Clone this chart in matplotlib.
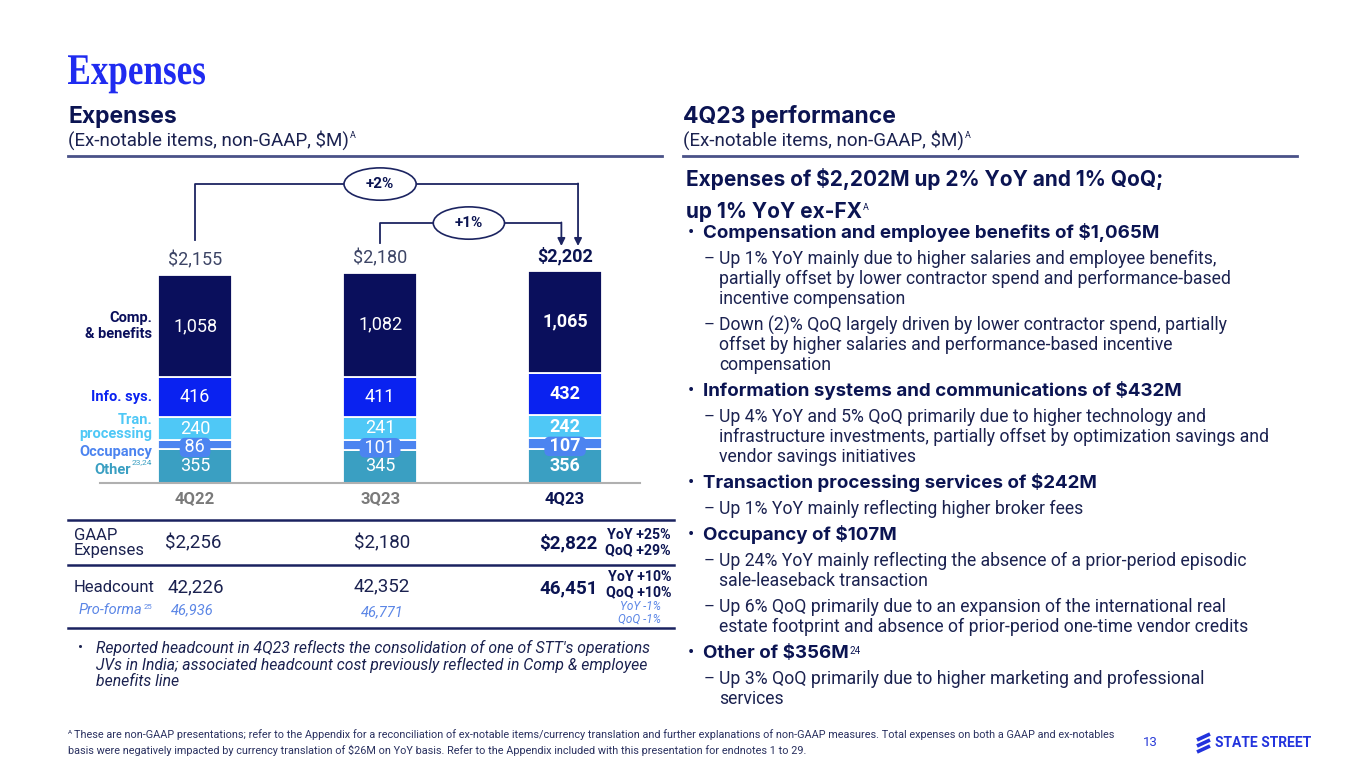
import numpy as np
import matplotlib
matplotlib.use("Agg")
import matplotlib.pyplot as plt
import matplotlib.transforms as mtransforms
from matplotlib.patches import Ellipse, PathPatch
from matplotlib.textpath import TextPath
from matplotlib.font_manager import FontProperties

plt.rcParams['font.family'] = ['Roboto', 'DejaVu Sans']
BOLD = ['Inter', 'Roboto', 'DejaVu Sans']

# ---- data ----
quarters = ['4Q22', '3Q23', '4Q23']
comp = [1058, 1082, 1065]
info_sys = [416, 411, 432]
tran = [240, 241, 242]
occupancy = [86, 101, 107]
other = [355, 345, 356]
totals = [2155, 2180, 2202]

gaap = ['$2,256', '$2,180', '$2,822']
gaap_chg = ['YoY +25%', 'QoQ +29%']
headcount = ['42,226', '42,352', '46,451']
head_chg = ['YoY +10%', 'QoQ +10%']
proforma = ['46,936', '46,771']
proforma_chg = ['YoY -1%', 'QoQ -1%']

navy = '#0b1452'
c_comp = '#0a0f5c'
c_info = '#0a22f0'
c_tran = '#4fc8f6'
c_occ = '#4c84f0'
c_other = '#3a9fc2'

fig = plt.figure(figsize=(13.65, 7.68), dpi=100)
fig.patch.set_facecolor('white')

# overlay axes in pixel coordinates for slide text
tx = fig.add_axes([0, 0, 1, 1])
tx.set_xlim(0, 1365)
tx.set_ylim(768, 0)
tx.axis('off')
renderer = fig.canvas.get_renderer()


def with_sup(x, y, s, sup, size, sup_size, **kw):
    t = tx.text(x, y, s, fontsize=size, va='center', **kw)
    bb = t.get_window_extent(renderer)
    x1, ytop = tx.transData.inverted().transform((bb.x1, bb.y1))
    kw.pop('weight', None)
    kw.pop('style', None)
    kw.pop('family', None)
    tx.text(x1 + 1, ytop + 1, sup, fontsize=sup_size, va='top', **kw)


# title, drawn as a stretched path to mimic the condensed display serif
tp = TextPath((0, 0), 'Expenses', size=40,
              prop=FontProperties(family='Liberation Serif', weight='bold'))
ext = tp.get_extents()
sx = 137 / ext.width
sy = 29 / (0.662 * 40)
tr = mtransforms.Affine2D().translate(-ext.x0, 0).scale(sx, -sy).translate(68, 84)
tx.add_patch(PathPatch(tr.transform_path(tp), fc='#1f2bf0', ec='none'))

tx.text(68, 117, 'Expenses', fontsize=16.5, weight='bold', family=BOLD, color=navy, va='center')
with_sup(68, 140, '(Ex-notable items, non-GAAP, $M)', 'A', 13.5, 6.5, color='#1b2250')
tx.text(683, 117, '4Q23 performance', fontsize=16.5, weight='bold', family=BOLD, color=navy,
        va='center')
with_sup(683, 140, '(Ex-notable items, non-GAAP, $M)', 'A', 13.5, 6.5, color='#1b2250')
tx.plot([68, 662], [156, 156], color='#4a5288', lw=2)
tx.plot([683, 1297], [156, 156], color='#4a5288', lw=2)

# ---- stacked bar chart ----
px_per_unit = 0.0965
ax = fig.add_axes([100 / 1365, (768 - 483) / 768, 540 / 1365, 320 / 768])
ax.set_xlim(-0.514, 2.405)
ax.set_ylim(0, 320 / px_per_unit)
x = np.arange(len(quarters))
w = 0.4

series = [(other, c_other), (occupancy, c_occ), (tran, c_tran), (info_sys, c_info), (comp, c_comp)]
bottom = np.zeros(len(quarters))
centers = []
for vals, col in series:
    vals = np.array(vals)
    ax.bar(x, vals, w, bottom=bottom, color=col, edgecolor='white', linewidth=1.3, zorder=2)
    centers.append(bottom + vals / 2)
    for i in range(len(quarters)):
        bold = 'bold' if i == 2 else 'normal'
        if col == c_occ:
            ax.text(x[i], bottom[i] + vals[i] / 2 - 30, f' {vals[i]:,} ', ha='center',
                    va='center', color='white', fontsize=13, weight=bold, zorder=2.5,
                    bbox=dict(boxstyle='round,pad=0.04,rounding_size=0.3', fc=c_occ, ec='none'))
        else:
            ax.text(x[i], bottom[i] + vals[i] / 2, f'{vals[i]:,}', ha='center', va='center',
                    color='white', fontsize=13, weight=bold, zorder=3)
    bottom = bottom + vals

for i, t in enumerate(totals):
    ax.text(x[i], t + 150, f'${t:,}', ha='center', va='center', fontsize=13,
            color=navy if i == 2 else '#3d4566', weight='bold' if i == 2 else 'normal')

# category labels on left of first bar
lx = -0.232
ax.text(lx, centers[4][0], 'Comp.\n& benefits', ha='right', va='center', fontsize=10.5,
        weight='bold', color=c_comp, linespacing=1.15)
ax.text(lx, centers[3][0], 'Info. sys.', ha='right', va='center', fontsize=10.5,
        weight='bold', color=c_info)
ax.text(lx, centers[2][0] + 20, 'Tran.\nprocessing', ha='right', va='center', fontsize=10.5,
        weight='bold', color=c_tran, linespacing=1.0)
ax.text(lx, centers[1][0] - 80, 'Occupancy', ha='right', va='center', fontsize=10.5,
        weight='bold', color=c_occ)
ax.text(lx - 0.115, centers[0][0] - 45, 'Other', ha='right', va='center', fontsize=10.5,
        weight='bold', color=c_other)
ax.text(lx - 0.112, centers[0][0] + 40, '23,24', ha='left', va='center', fontsize=6,
        color=c_other)

# growth brackets
top = max(totals)
y2 = top + 896
y1 = top + 492
tip = top + 254
lc = '#1c2461'
ax.plot([0, 0, 2.07], [totals[0] + 363, y2, y2], color=lc, lw=1.3, zorder=1)
ax.annotate('', xy=(2.07, tip), xytext=(2.07, y2 + 6),
            arrowprops=dict(arrowstyle='-|>', color=lc, lw=1.3, shrinkA=0, shrinkB=0,
                            mutation_scale=11))
ax.plot([1, 1, 1.98], [totals[1] + 307, y1, y1], color=lc, lw=1.3, zorder=1)
ax.annotate('', xy=(1.98, tip), xytext=(1.98, y1 + 6),
            arrowprops=dict(arrowstyle='-|>', color=lc, lw=1.3, shrinkA=0, shrinkB=0,
                            mutation_scale=11))
ax.add_patch(Ellipse((1.0, y2), 0.39, 335, fc='white', ec=lc, lw=1.2, zorder=4, clip_on=False))
ax.text(1.0, y2, '+2%', ha='center', va='center', fontsize=11, weight='bold', color=navy, zorder=5)
ax.add_patch(Ellipse((1.48, y1), 0.385, 335, fc='white', ec=lc, lw=1.2, zorder=4, clip_on=False))
ax.text(1.48, y1, '+1%', ha='center', va='center', fontsize=11, weight='bold', color=navy, zorder=5)

ax.set_xticks(x)
ax.set_xticklabels(quarters, fontsize=12, weight='bold')
for lab, col in zip(ax.get_xticklabels(), ['#7a7a7a', '#7a7a7a', navy]):
    lab.set_color(col)
ax.tick_params(axis='x', length=0, pad=6)
ax.set_yticks([])
for s in ['top', 'right', 'left']:
    ax.spines[s].set_visible(False)
ax.spines['bottom'].set_color('#b0b0b0')
ax.spines['bottom'].set_linewidth(1.5)
ax.patch.set_alpha(0)

# ---- table below chart ----
for yy in [520, 565, 628]:
    tx.plot([68, 674], [yy, yy], color='#1a2260', lw=1.8)
tx.text(74, 543, 'GAAP\nExpenses', fontsize=12, color='#1b2250', va='center', linespacing=1.05)
tx.text(165, 543, gaap[0], fontsize=13.5, color='#1b2250', va='center')
tx.text(382, 543, gaap[1], fontsize=13.5, color='#1b2250', va='center', ha='center')
tx.text(598, 543, gaap[2], fontsize=13.5, color=navy, va='center', ha='right', weight='bold')
tx.text(671, 535, gaap_chg[0], fontsize=10.2, color=navy, va='center', ha='right', weight='bold')
tx.text(671, 550, gaap_chg[1], fontsize=10.2, color=navy, va='center', ha='right', weight='bold')

tx.text(74, 587, 'Headcount', fontsize=12, color='#1b2250', va='center')
tx.text(168, 587, headcount[0], fontsize=13.5, color='#1b2250', va='center')
tx.text(382, 586, headcount[1], fontsize=13.5, color='#1b2250', va='center', ha='center')
tx.text(598, 588, headcount[2], fontsize=13.5, color=navy, va='center', ha='right', weight='bold')
tx.text(671, 577, head_chg[0], fontsize=10.2, color=navy, va='center', ha='right', weight='bold')
tx.text(671, 592, head_chg[1], fontsize=10.2, color=navy, va='center', ha='right', weight='bold')

lb = '#5b86e6'
with_sup(79, 610, 'Pro-forma', '25', 10.5, 5.5, color=lb, style='italic')
tx.text(171, 610, proforma[0], fontsize=10.5, color=lb, va='center', style='italic')
tx.text(382, 612, proforma[1], fontsize=10.5, color=lb, va='center', ha='center', style='italic')
tx.text(661, 607, proforma_chg[0], fontsize=8.5, color=lb, va='center', ha='right', style='italic')
tx.text(661, 619, proforma_chg[1], fontsize=8.5, color=lb, va='center', ha='right', style='italic')

note = ["Reported headcount in 4Q23 reflects the consolidation of one of STT's operations",
        "JVs in India; associated headcount cost previously reflected in Comp & employee",
        "benefits line"]
tx.text(78, 648, '•', fontsize=11, color='#1b2250', va='center')
for k, line in enumerate(note):
    tx.text(96, 648 + 17 * k, line, fontsize=11.3, color='#1b2250', va='center', style='italic')

# ---- right commentary ----
tx.text(686, 179, 'Expenses of $2,202M up 2% YoY and 1% QoQ;', fontsize=15, weight='bold',
        family=BOLD, color=navy, va='center')
with_sup(686, 212, 'up 1% YoY ex-FX', 'A', 15, 6.5, weight='bold', family=BOLD, color=navy)

items = [
    ('b', ['Compensation and employee benefits of $1,065M']),
    ('d', ['Up 1% YoY mainly due to higher salaries and employee benefits,',
           'partially offset by lower contractor spend and performance-based',
           'incentive compensation']),
    ('d', ['Down (2)% QoQ largely driven by lower contractor spend, partially',
           'offset by higher salaries and performance-based incentive',
           'compensation']),
    ('b', ['Information systems and communications of $432M']),
    ('d', ['Up 4% YoY and 5% QoQ primarily due to higher technology and',
           'infrastructure investments, partially offset by optimization savings and',
           'vendor savings initiatives']),
    ('b', ['Transaction processing services of $242M']),
    ('d', ['Up 1% YoY mainly reflecting higher broker fees']),
    ('b', ['Occupancy of $107M']),
    ('d', ['Up 24% YoY mainly reflecting the absence of a prior-period episodic',
           'sale-leaseback transaction']),
    ('d', ['Up 6% QoQ primarily due to an expansion of the international real',
           'estate footprint and absence of prior-period one-time vendor credits']),
    ('b', ['Other of $356M']),
    ('d', ['Up 3% QoQ primarily due to higher marketing and professional',
           'services']),
]
y = 233
for n, (kind, lines) in enumerate(items):
    if n > 0:
        y += 26
    for j, line in enumerate(lines):
        if j > 0:
            y += 20
        if kind == 'b':
            if j == 0:
                tx.text(688, y, '•', fontsize=13.5, color=navy, va='center')
            if line.startswith('Other'):
                with_sup(703, y, line, '24', 13.5, 7, weight='bold', family=BOLD, color=navy)
            else:
                tx.text(703, y, line, fontsize=13.5, weight='bold', family=BOLD, color=navy,
                        va='center')
        else:
            if j == 0:
                tx.text(704, y, '–', fontsize=12, color='#1b2250', va='center')
            tx.text(719, y, line, fontsize=12.7, color='#1b2250', va='center')

# ---- footer ----
fc = '#2a3160'
tx.text(68, 733, 'A', fontsize=4.5, color=fc, va='center')
tx.text(74, 735, 'These are non-GAAP presentations; refer to the Appendix for a reconciliation of '
        'ex-notable items/currency translation and further explanations of non-GAAP measures. '
        'Total expenses on both a GAAP and ex-notables', fontsize=7.85, color=fc, va='center')
tx.text(68, 750, 'basis were negatively impacted by currency translation of $26M on YoY basis. '
        'Refer to the Appendix included with this presentation for endnotes 1 to 29.',
        fontsize=7.85, color=fc, va='center')
tx.text(1143, 742, '13', fontsize=9.5, color='#2a3cd8', va='center')
logo = '#2233dd'
for dy in [-6, 0, 6]:
    tx.plot([1197, 1210], [743 + dy + 3, 743 + dy - 3], color=logo, lw=2.6, solid_capstyle='butt')
tx.text(1215, 743, 'STATE STREET', fontsize=10, weight='bold', color=logo, va='center')

fig.savefig('out.png', dpi=100)
